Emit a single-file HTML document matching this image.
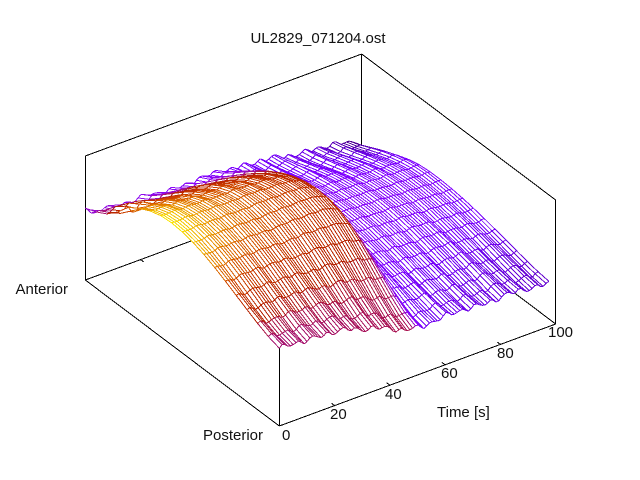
<!DOCTYPE html>
<html><head><meta charset="utf-8">
<style>
html,body{margin:0;padding:0;background:#fff;}
#w{position:relative;width:640px;height:480px;overflow:hidden;background:#fff;}
svg{position:absolute;left:0;top:0;}
text{font-family:"Liberation Sans",sans-serif;font-size:15px;fill:#111;}
line{shape-rendering:crispEdges;}
#box line{stroke:#000;stroke-width:1;}
</style></head><body><div id="w">
<svg width="640" height="480" xmlns="http://www.w3.org/2000/svg">
<g id="box">
<line x1="85.5" y1="156" x2="85.5" y2="280"/>
<line x1="85.3" y1="156" x2="361.7" y2="54"/>
<line x1="361.7" y1="54" x2="555.7" y2="200"/>
<line x1="361.5" y1="54" x2="361.5" y2="178"/>
<line x1="555.5" y1="200" x2="555.5" y2="324"/>
<line x1="85.3" y1="280" x2="361.7" y2="178"/>
<line x1="361.7" y1="178" x2="555.7" y2="324"/>
<line x1="279.5" y1="302" x2="279.5" y2="426"/>
<line x1="85.3" y1="280" x2="279.3" y2="426"/>
<line x1="279.3" y1="426" x2="555.7" y2="324"/>
<line x1="279.3" y1="426" x2="283" y2="424.6"/>
<line x1="85.3" y1="280" x2="89" y2="278.6"/>
<line x1="555.7" y1="324" x2="552" y2="325.4"/>
<line x1="361.7" y1="178" x2="358" y2="179.4"/>
<line x1="334.6" y1="405.6" x2="331.4" y2="403.2"/>
<line x1="389.9" y1="385.2" x2="386.7" y2="382.8"/>
<line x1="445.1" y1="364.8" x2="441.9" y2="362.4"/>
<line x1="500.4" y1="344.4" x2="497.2" y2="342"/>
<line x1="140.6" y1="259.6" x2="143.8" y2="262"/>
<line x1="195.9" y1="239.2" x2="199.1" y2="241.6"/>
<line x1="251.1" y1="218.8" x2="254.3" y2="221.2"/>
<line x1="306.4" y1="198.4" x2="309.6" y2="200.8"/>
</g>
<g id="surf"></g>
<text x="318" y="43" text-anchor="middle">UL2829_071204.ost</text>
<text x="68" y="294" text-anchor="end">Anterior</text>
<text x="263" y="440" text-anchor="end">Posterior</text>
<text x="282" y="440">0</text>
<text x="330" y="419">20</text>
<text x="385" y="399">40</text>
<text x="441" y="378">60</text>
<text x="497" y="358">80</text>
<text x="548" y="337">100</text>
<text x="437" y="417">Time [s]</text>
</svg>
</div>
<script>
(function(){
var OX=279.3,OY=426,TX=2.764,TY=-1.02,SX=-194,SY=-146;
function P(t,s,z){return [OX+TX*t+SX*s, OY+TY*t+SY*s-z];}
function li(tab,t){
  if(t<=tab[0][0])return tab[0][1];
  for(var k=1;k<tab.length;k++){
    if(t<=tab[k][0]){var a=tab[k-1],b=tab[k],f=(t-a[0])/(b[0]-a[0]);return a[1]+(b[1]-a[1])*f;}
  }
  return tab[tab.length-1][1];
}
var E0=[[0,76],[5,78],[14,75],[25,71],[34,64],[40,56],[45,49],[50,48],[60,48],[80,47],[92,45],[97.5,44]];
var E1=[[0,67],[10,63],[30,59],[54,58],[78,48],[97.5,40]];
var H=[[0,122],[40,122],[46,120],[48,116],[50,110],[52,94],[54,80],[57,72],[70,69],[85,67],[97.5,65]];
var SP=[[0,.56],[30,.53],[50,.48],[54,.58],[97.5,.6]];
var PC=[[0,.97],[5,.9],[12,.82],[25,.72],[40,.62],[49,.54],[51,.36],[54,.29],[97.5,.27]];
var C0=[[0,.42],[30,.44],[48,.45],[50,.3],[53,.2],[97.5,.15]];
var C1=[[0,.33],[30,.28],[50,.25],[80,.18],[97.5,.08]];
function pal(x){
  x=Math.max(0,Math.min(1,x));
  var r=Math.sqrt(x),g=x*x*x,b=Math.max(0,Math.sin(2*Math.PI*x));
  return 'rgb('+Math.round(r*255)+','+Math.round(g*255)+','+Math.round(b*255)+')';
}
var Nt=98,Ns=19,tmax=97.5,G=[],i,j;
for(i=0;i<Nt;i++){
  var t=i*tmax/(Nt-1);
  var e0=li(E0,t),e1=li(E1,t),hh=li(H,t),sp=li(SP,t);
  var c0=li(C0,t),c1=li(C1,t),pc=li(PC,t);
  G[i]=[];
  for(j=0;j<Ns;j++){
    var s=j/(Ns-1),h,z;
    if(s<=sp){var u=s/sp;h=Math.pow(Math.sin(Math.PI*u/2),1.4);z=e0+(hh-e0)*h;}
    else{var v=(1-s)/(1-sp);h=Math.pow(Math.sin(Math.PI*v/2),1.25);z=e1+(hh-e1)*h;}
    z+=(2.0*Math.sin(1.17*t+3.1*s)+1.0*Math.sin(0.53*t+8.3*s+1.1)+1.0*Math.sin(0.29*t+5.7*s+2.0)+0.5*Math.sin(1.9*t-6*s))*(1-0.75*h);
    if(t<18&&s>0.75){z+=4*Math.sin(0.9*t+20*s)*(1-t/18);}
    var e=c0*(1-s)+c1*s;
    var col=e+(pc-e)*Math.pow(h,1.3);
    var pp=P(t,s,z);
    G[i][j]={x:pp[0],y:pp[1],c:col,t:t,s:s};
  }
}
var Q=[];
for(i=0;i<Nt-1;i++)for(j=0;j<Ns-1;j++){
  var tc=(G[i][j].t+G[i+1][j].t)/2,sc=(G[i][j].s+G[i][j+1].s)/2;
  Q.push([i,j,1.94*tc+276*sc]);
}
Q.sort(function(a,b){return b[2]-a[2];});
function f(v){return v.toFixed(1);}
var out=[];
function seg(a,b){
  out.push('<line x1="'+f(a.x)+'" y1="'+f(a.y)+'" x2="'+f(b.x)+'" y2="'+f(b.y)+'" stroke="'+pal((a.c+b.c)/2)+'"/>');
}
for(var n=0;n<Q.length;n++){
  i=Q[n][0];j=Q[n][1];
  var A=G[i][j],B=G[i+1][j],C=G[i+1][j+1],D=G[i][j+1];
  out.push('<polygon points="'+f(A.x)+','+f(A.y)+' '+f(B.x)+','+f(B.y)+' '+f(C.x)+','+f(C.y)+' '+f(D.x)+','+f(D.y)+'" fill="#fff"/>');
  seg(A,B);seg(B,C);seg(C,D);seg(D,A);
}
document.getElementById('surf').innerHTML=out.join('');
})();
</script>
</body></html>
